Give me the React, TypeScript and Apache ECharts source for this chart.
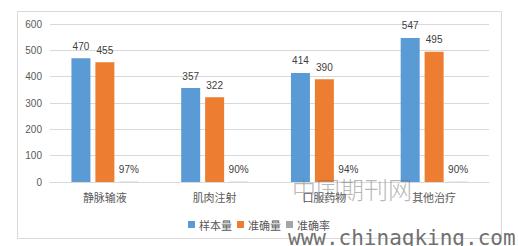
import React, { useEffect, useRef } from "react";
import * as echarts from "echarts";

const categories = ["静脉输液", "肌肉注射", "口服药物", "其他治疗"];
const sampleCounts = [470, 357, 414, 547];
const accurateCounts = [455, 322, 390, 495];
const accuracyRates = [97, 90, 94, 90];
const seriesNames = ["样本量", "准确量", "准确率"];
const yTicks = { min: 0, max: 600, interval: 100 };

const NUM_FONT = "'Liberation Sans', 'Noto Sans CJK SC', sans-serif";
const CJK_FONT = "'Noto Sans CJK SC', sans-serif";

export default function App() {
  const ref = useRef<HTMLDivElement>(null);
  useEffect(() => {
    if (!ref.current) return;
    const chart = echarts.init(ref.current, null, { renderer: "svg" });
    const labelBase = {
      show: true,
      position: "top" as const,
      distance: 7,
      color: "#404040",
      fontSize: 10,
      fontFamily: NUM_FONT,
    };
    chart.setOption({
      animation: false,
      backgroundColor: "#ffffff",
      color: ["#5b9bd5", "#ed7d31", "#a5a5a5"],
      grid: { left: 50, right: 29, top: 24, bottom: 64 },
      legend: {
        data: seriesNames,
        left: "center",
        top: 214,
        icon: "rect",
        itemWidth: 7,
        itemHeight: 7,
        itemGap: 5,
        textStyle: { color: "#595959", fontSize: 11, fontFamily: CJK_FONT, padding: [0, 0, 0, -1] },
      },
      xAxis: {
        type: "category",
        data: categories,
        axisTick: { show: false },
        axisLine: { lineStyle: { color: "#d9d9d9" } },
        axisLabel: { color: "#595959", fontSize: 11, fontFamily: CJK_FONT, margin: 9 },
      },
      yAxis: {
        type: "value",
        min: yTicks.min,
        max: yTicks.max,
        interval: yTicks.interval,
        axisLine: { show: false },
        axisTick: { show: false },
        splitLine: { lineStyle: { color: "#d9d9d9" } },
        axisLabel: { color: "#595959", fontSize: 10, fontFamily: NUM_FONT, margin: 8 },
      },
      series: [
        {
          name: seriesNames[0],
          type: "bar",
          data: sampleCounts,
          barWidth: 19,
          barGap: "26%",
          label: labelBase,
        },
        {
          name: seriesNames[1],
          type: "bar",
          data: accurateCounts,
          barWidth: 19,
          barGap: "26%",
          label: labelBase,
        },
        {
          name: seriesNames[2],
          type: "bar",
          data: accuracyRates.map((r) => r / 100),
          barWidth: 19,
          barGap: "26%",
          label: {
            ...labelBase,
            formatter: (p: any) => `${accuracyRates[p.dataIndex]}%`,
          },
        },
      ],
      graphic: [
        {
          type: "rect",
          shape: { x: 17.5, y: 11.5, width: 484, height: 227 },
          style: { fill: "none", stroke: "#d9d9d9", lineWidth: 1 },
          silent: true,
          z: 0,
        },
        {
          type: "text",
          x: 292,
          y: 188,
          z: 100,
          style: {
            text: "中国期刊网",
            font: "300 24px 'Noto Sans CJK SC', sans-serif",
            fill: "rgba(120,120,120,0.55)",
            align: "left",
            verticalAlign: "middle",
          },
          silent: true,
        },
        {
          type: "text",
          x: 288,
          y: 238,
          z: 100,
          style: {
            text: "www.chinaqking.com",
            font: "21px 'DejaVu Sans Mono', monospace",
            fill: "#707070",
            align: "left",
            verticalAlign: "middle",
          },
          silent: true,
        },
      ],
    });
    return () => chart.dispose();
  }, []);
  return (
    <div
      ref={ref}
      style={{ position: "fixed", left: 0, top: 0, width: 518, height: 246 }}
    />
  );
}
